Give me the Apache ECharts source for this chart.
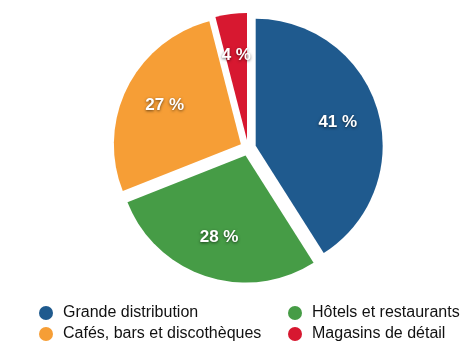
<!DOCTYPE html>
<html>
<head>
<meta charset="utf-8">
<script src="https://cdn.jsdelivr.net/npm/echarts@6/dist/echarts.min.js"></script>
<style>html,body{margin:0;padding:0;background:#fff}#c{width:470px;height:360px}</style>
</head>
<body>
<div id="c"></div>
<script>
const categories = ['Grande distribution', 'Hôtels et restaurants', 'Cafés, bars et discothèques', 'Magasins de détail'];
const values = [41, 28, 27, 4];
const colors = ['#1F5A8E', '#469C46', '#F69E36', '#D71830'];
const legendLeft = ['Grande distribution', 'Cafés, bars et discothèques'];
const legendRight = ['Hôtels et restaurants', 'Magasins de détail'];

const font = 'Helvetica, Arial, "Liberation Sans", sans-serif';
const dataMain = categories.map((n, i) => ({ name: n, value: values[i], selected: true, itemStyle: { color: colors[i] } }));
const dataLabel = categories.map((n, i) => ({ name: n, value: values[i], selected: true }));

const legendCommon = {
  orient: 'vertical', icon: 'circle', itemWidth: 14, itemHeight: 14, itemGap: 5,
  selectedMode: false, top: 305, padding: 0,
  textStyle: { fontFamily: font, fontSize: 16, lineHeight: 14, color: '#111', padding: [0, 0, 0, 5] }
};

const chart = echarts.init(document.getElementById('c'));
chart.setOption({
  animation: false,
  color: colors,
  legend: [
    Object.assign({}, legendCommon, { left: 39, data: legendLeft }),
    Object.assign({}, legendCommon, { left: 288, data: legendRight })
  ],
  series: [
    {
      type: 'pie', center: [248, 148], radius: 127, startAngle: 90, clockwise: true,
      selectedMode: 'multiple', selectedOffset: 8, silent: true,
      label: { show: false }, labelLine: { show: false },
      itemStyle: { borderWidth: 0 },
      emphasis: { disabled: true },
      data: dataMain
    },
    {
      type: 'pie', center: [248, 148], radius: [38, 127], startAngle: 90, clockwise: true,
      selectedMode: 'multiple', selectedOffset: 8, silent: true,
      itemStyle: { color: 'rgba(0,0,0,0)' },
      emphasis: { disabled: true },
      label: {
        show: true, position: 'inside',
        formatter: p => p.value + ' %',
        color: '#fff', fontFamily: font, fontSize: 17, fontWeight: 'bold',
        textShadowColor: 'rgba(0,0,0,0.6)', textShadowBlur: 3, textShadowOffsetX: 0, textShadowOffsetY: 1
      },
      labelLine: { show: false },
      data: dataLabel
    }
  ]
});
</script>
</body>
</html>
